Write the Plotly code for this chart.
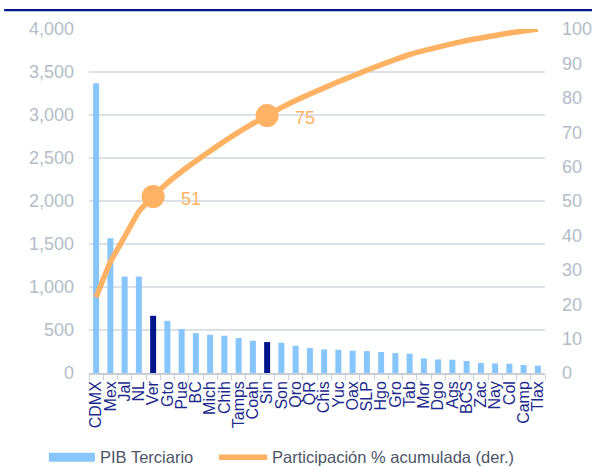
import plotly.graph_objects as go

# Tertiary-sector GDP by state and its cumulative share
states = ["CDMX", "Mex", "Jal", "NL", "Ver", "Gto", "Pue", "BC", "Mich", "Chih",
          "Tamps", "Coah", "Sin", "Son", "Qro", "QR", "Chis", "Yuc", "Oax", "SLP",
          "Hgo", "Gro", "Tab", "Mor", "Dgo", "Ags", "BCS", "Zac", "Nay", "Col",
          "Camp", "Tlax"]
pib_terciario = [3370, 1567, 1121, 1121, 665, 607, 511, 464, 445, 433,
                 406, 375, 360, 352, 317, 290, 274, 270, 259, 255,
                 244, 232, 224, 170, 158, 154, 139, 116, 111, 108,
                 93, 85]
highlighted = ["Ver", "Sin"]

left_ticks = [0, 500, 1000, 1500, 2000, 2500, 3000, 3500, 4000]
right_ticks = list(range(0, 101, 10))

total = sum(pib_terciario)
cumulative = []
running = 0
for v in pib_terciario:
    running += v
    cumulative.append(running / total * 100)

LIGHT = "#86C6FD"
DARK = "#00148C"
ORANGE = "#FFB263"
AXIS_TXT = "#B3BCC8"
GRID = "#DCE1E8"
FONT = "Arial, Liberation Sans, sans-serif"

bar_colors = [DARK if s in highlighted else LIGHT for s in states]

fig = go.Figure()
fig.add_trace(go.Bar(
    x=states, y=pib_terciario, marker=dict(color=bar_colors, line=dict(width=0)),
    name="PIB Terciario", yaxis="y", showlegend=False,
))
fig.add_trace(go.Scatter(
    x=states, y=cumulative, mode="lines", yaxis="y2",
    line=dict(color=ORANGE, width=5.5, shape="spline", smoothing=0.5),
    name="Participación % acumulada (der.)", showlegend=False,
))
hl_idx = [states.index(s) for s in highlighted]
fig.add_trace(go.Scatter(
    x=[states[i] for i in hl_idx], y=[cumulative[i] for i in hl_idx],
    mode="markers", yaxis="y2", marker=dict(color=ORANGE, size=23),
    showlegend=False, hoverinfo="skip",
))
for i in hl_idx:
    fig.add_annotation(
        x=states[i], y=cumulative[i], xref="x", yref="y2",
        text=f"{round(cumulative[i])}", showarrow=False,
        xanchor="left", yanchor="middle", xshift=26, yshift=-2,
        font=dict(family=FONT, size=18, color=ORANGE),
    )

# Custom legend: wide swatches with labels below the plot
fig.add_shape(type="rect", xref="paper", yref="paper",
              x0=-0.088, x1=0.013, y0=-0.258, y1=-0.232,
              fillcolor=LIGHT, line=dict(width=0))
fig.add_annotation(xref="paper", yref="paper", x=0.02, y=-0.245,
                   text="PIB Terciario", showarrow=False, xanchor="left",
                   yanchor="middle",
                   font=dict(family=FONT, size=16.5, color="#4D5567"))
fig.add_shape(type="line", xref="paper", yref="paper",
              x0=0.285, x1=0.391, y0=-0.245, y1=-0.245,
              line=dict(color=ORANGE, width=5.5))
fig.add_annotation(xref="paper", yref="paper", x=0.396, y=-0.245,
                   text="Participación % acumulada (der.)", showarrow=False,
                   xanchor="left", yanchor="middle",
                   font=dict(family=FONT, size=16.5, color="#4D5567"))

# Dark rule across the top
fig.add_shape(type="line", xref="paper", yref="paper",
              x0=-0.186, x1=1.105, y0=1.055, y1=1.055,
              line=dict(color="#00158F", width=2.2))

fig.update_layout(
    width=592, height=468,
    margin=dict(l=89, r=47, t=29, b=95, autoexpand=False),
    paper_bgcolor="white", plot_bgcolor="white",
    bargap=0.58,
    font=dict(family=FONT),
    xaxis=dict(
        type="category", tickangle=-90, automargin=False,
        tickmode="array", tickvals=states, ticktext=states,
        tickfont=dict(size=16, color="#1B2A8C"),
        showline=True, linecolor="#C9CED6", linewidth=1.5,
        ticks="outside", tickson="boundaries", ticklen=5, tickcolor="#C9CED6",
        showgrid=False,
    ),
    yaxis=dict(
        range=[0, 4000], tickvals=left_ticks, automargin=False,
        ticktext=[f"{v:,}" for v in left_ticks],
        tickfont=dict(size=18, color=AXIS_TXT),
        showgrid=True, gridcolor=GRID, gridwidth=1.5,
        zeroline=False, ticklabelstandoff=14,
    ),
    yaxis2=dict(
        range=[0, 100], tickvals=right_ticks, overlaying="y", side="right",
        automargin=False,
        tickfont=dict(size=18, color=AXIS_TXT),
        showgrid=False, zeroline=False, ticklabelstandoff=16,
    ),
)

fig.write_html("out.html")
